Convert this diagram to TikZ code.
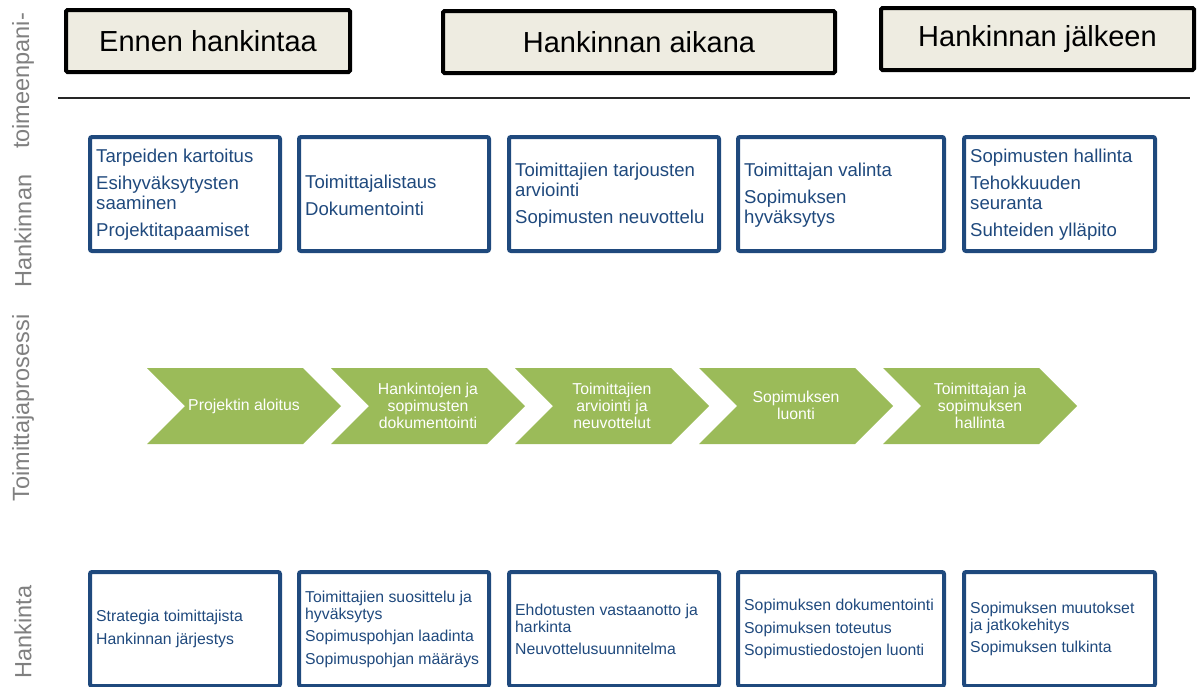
\documentclass[tikz,border=0pt]{standalone}
\usepackage{fontspec}
\setmainfont{Liberation Sans}
\definecolor{hdrfill}{HTML}{EEECE1}
\definecolor{boxblue}{HTML}{1F497D}
\definecolor{chevgreen}{HTML}{9BBB59}
\definecolor{lblgray}{HTML}{808080}
\begin{document}
\begin{tikzpicture}[x=1pt,y=-1pt,
  hdr/.style={draw=black, line width=4pt, fill=hdrfill, rounded corners=1.5pt, inner sep=0pt, font=\fontsize{29}{34}\selectfont},
  bbox/.style={draw=boxblue, line width=4pt, rounded corners=2pt, inner sep=0pt, minimum height=114pt},
  btxta/.style={anchor=west, align=left, inner sep=0pt, text=boxblue, font=\fontsize{18.6}{20}\selectfont},
  btxtb/.style={anchor=west, align=left, inner sep=0pt, text=boxblue, font=\fontsize{15.8}{17}\selectfont},
  chevtxt/.style={text=white, align=center, inner sep=0pt, font=\fontsize{15.8}{17}\selectfont},
  sidelbl/.style={rotate=90, text=lblgray, inner sep=0pt, font=\fontsize{23.5}{27}\selectfont},
  chevfill/.style={fill=chevgreen}
]
\useasboundingbox (0,0) rectangle (1204,686);

% side labels
\node[sidelbl] (s1) at (23,81) {toimeenpani-};
\node[sidelbl] (s2) at (23,231) {Hankinnan};
\node[sidelbl] (s3) at (23,408) {Toimittajaprosessi};
\node[sidelbl] (s4) at (23,632) {Hankinta};

% headers
\node[hdr, minimum width=284pt, minimum height=62pt] (h1) at (208,41) {Ennen hankintaa};
\node[hdr, minimum width=392pt, minimum height=62pt] (h2) at (639,42) {Hankinnan aikana};
\node[hdr, minimum width=313pt, minimum height=62pt] (h3) at (1037.5,39) {Hankinnan jälkeen};

\coordinate (la) at (58,98);
\coordinate (lb) at (1190,98);
\draw[line width=1.5pt, black!85] (la) -- (lb);

% row 1 boxes
\node[bbox, minimum width=190pt] (a1) at (185,194) {};
\node[bbox, minimum width=190pt] (a2) at (394,194) {};
\node[bbox, minimum width=210pt] (a3) at (614,194) {};
\node[bbox, minimum width=206pt] (a4) at (841,194) {};
\node[bbox, minimum width=191pt] (a5) at (1059.5,194) {};

\node[btxta] (ta1) at ([xshift=8pt,yshift=-1pt]a1.west) {Tarpeiden kartoitus\\[7pt]Esihyväksytysten\\saaminen\\[7pt]Projektitapaamiset};
\node[btxta] (ta2) at ([xshift=8pt,yshift=-1pt]a2.west) {Toimittajalistaus\\[7pt]Dokumentointi};
\node[btxta] (ta3) at ([xshift=8pt,yshift=-1pt]a3.west) {Toimittajien tarjousten\\arviointi\\[7pt]Sopimusten neuvottelu};
\node[btxta] (ta4) at ([xshift=8pt,yshift=-1pt]a4.west) {Toimittajan valinta\\[7pt]Sopimuksen\\hyväksytys};
\node[btxta] (ta5) at ([xshift=8pt,yshift=-1pt]a5.west) {Sopimusten hallinta\\[7pt]Tehokkuuden\\seuranta\\[7pt]Suhteiden ylläpito};

% chevrons
\foreach \x in {147,331,515,699,883}{
  \fill[chevfill] (\x,368) -- ++(156,0) -- ++(38,38) -- ++(-38,38) -- ++(-156,0) -- ++(38,-38) -- cycle;
}
\node[chevtxt] (c1) at (244,406) {Projektin aloitus};
\node[chevtxt] (c2) at (428,406) {Hankintojen ja\\sopimusten\\dokumentointi};
\node[chevtxt] (c3) at (612,406) {Toimittajien\\arviointi ja\\neuvottelut};
\node[chevtxt] (c4) at (796,405) {Sopimuksen\\luonti};
\node[chevtxt] (c5) at (980,406) {Toimittajan ja\\sopimuksen\\hallinta};

% row 3 boxes
\node[bbox, minimum width=190pt] (b1) at (185,629) {};
\node[bbox, minimum width=190pt] (b2) at (394,629) {};
\node[bbox, minimum width=210pt] (b3) at (614,629) {};
\node[bbox, minimum width=206pt] (b4) at (841,629) {};
\node[bbox, minimum width=191pt] (b5) at (1059.5,629) {};

\node[btxtb] (tb1) at ([xshift=8pt]b1.west) {Strategia toimittajista\\[6pt]Hankinnan järjestys};
\node[btxtb] (tb2) at ([xshift=8pt]b2.west) {Toimittajien suosittelu ja\\hyväksytys\\[5pt]Sopimuspohjan laadinta\\[6pt]Sopimuspohjan määräys};
\node[btxtb] (tb3) at ([xshift=8pt]b3.west) {Ehdotusten vastaanotto ja\\harkinta\\[5pt]Neuvottelusuunnitelma};
\node[btxtb] (tb4) at ([xshift=8pt]b4.west) {Sopimuksen dokumentointi\\[6pt]Sopimuksen toteutus\\[5pt]Sopimustiedostojen luonti};
\node[btxtb] (tb5) at ([xshift=8pt]b5.west) {Sopimuksen muutokset\\ja jatkokehitys\\[5pt]Sopimuksen tulkinta};
\end{tikzpicture}
\end{document}
